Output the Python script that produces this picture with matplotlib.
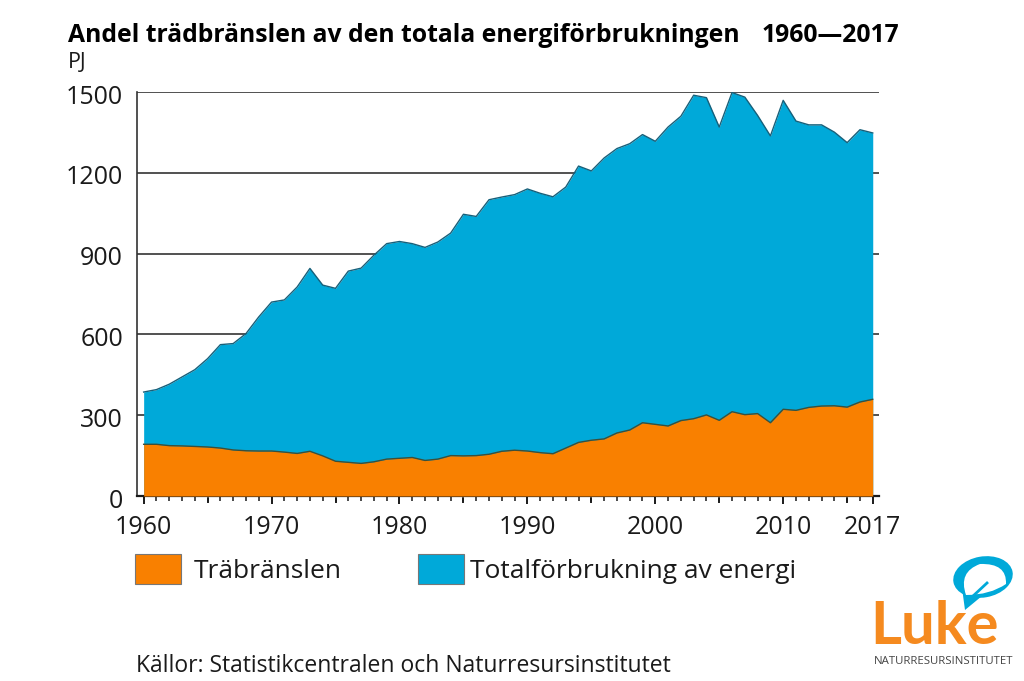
from __future__ import annotations

import matplotlib

matplotlib.use("Agg")
import matplotlib.pyplot as plt
from matplotlib.patches import Ellipse, PathPatch, Polygon
from matplotlib.path import Path
from matplotlib.transforms import ScaledTranslation

WIDTH, HEIGHT = 1024, 681
BLUE = "#00a9d9"
ORANGE = "#f98000"
DARK = "#1a1a1a"

plt.rcParams["font.family"] = ["Open Sans", "DejaVu Sans"]

years = list(range(1960, 2018))
total_energy = [
    386, 395, 415, 442, 469, 510, 562, 566, 603, 665,
    720, 728, 776, 845, 783, 771, 835, 846, 894, 937,
    945, 937, 923, 943, 976, 1046, 1038, 1100, 1110, 1119,
    1140, 1124, 1111, 1147, 1225, 1207, 1255, 1290, 1308, 1342,
    1317, 1370, 1410, 1488, 1479, 1370, 1498, 1481, 1413, 1337,
    1469, 1392, 1378, 1378, 1351, 1312, 1360, 1348,
]
wood_fuels = [
    192, 192, 187, 186, 184, 182, 178, 171, 168, 167,
    167, 163, 158, 166, 149, 129, 125, 121, 127, 137,
    140, 143, 132, 137, 150, 149, 150, 155, 166, 170,
    167, 161, 157, 178, 199, 207, 212, 234, 245, 272,
    266, 260, 280, 287, 301, 281, 313, 302, 306, 272,
    322, 318, 329, 334, 335, 330, 349, 359,
]
y_ticks = [0, 300, 600, 900, 1200, 1500]
x_labels = [1960, 1970, 1980, 1990, 2000, 2010, 2017]
x_stubs = [1965, 1975, 1985, 1995, 2005, 2015]


def px_axes(fig, left, top, right, bottom):
    return fig.add_axes([left / WIDTH, 1 - bottom / HEIGHT, (right - left) / WIDTH, (bottom - top) / HEIGHT])


fig = plt.figure(figsize=(WIDTH / 100, HEIGHT / 100), dpi=100)
ax = px_axes(fig, 137, 92, 879, 496)

total_fill = ax.fill_between(years, total_energy, color=BLUE, lw=0, zorder=2, label="Totalförbrukning av energi")
wood_fill = ax.fill_between(years, wood_fuels, color=ORANGE, lw=0, zorder=3, label="Träbränslen")
ax.plot(years, total_energy, color="#17607a", lw=1, zorder=4)
ax.plot(years, wood_fuels, color="#3d4f3a", lw=1, zorder=4)

ax.set_xlim(1959.48, 2017.49)
ax.set_ylim(0, 1500)
ax.set_yticks(y_ticks)
ax.set_yticklabels([str(v) for v in y_ticks], fontsize=18, color=DARK)
ax.set_xticks(x_labels)
ax.set_xticklabels([str(v) for v in x_labels], fontsize=18, color=DARK)
ax.set_xticks(years, minor=True)
ax.tick_params(axis="x", which="major", length=6, width=1.4, color=DARK, pad=7.5)
ax.tick_params(axis="x", which="minor", length=3.5, width=1.1, color=DARK)
ax.tick_params(axis="y", length=0, pad=10)
ax.grid(axis="y", color="#333333", lw=1.2, zorder=1)
ax.set_axisbelow(True)
# the y labels sit a little under their grid lines
for label in ax.get_yticklabels():
    label.set_transform(label.get_transform() + ScaledTranslation(0, -1.5 / 72, fig.dpi_scale_trans))
for side in ["top", "right"]:
    ax.spines[side].set_visible(False)
ax.spines["left"].set_color("#333333")
ax.spines["left"].set_linewidth(1.2)
ax.spines["bottom"].set_color(DARK)
ax.spines["bottom"].set_linewidth(1.6)
for yr in x_stubs:
    ax.plot([yr, yr], [-10, -24], color=DARK, lw=1.4, clip_on=False, zorder=5)

legend = ax.legend(
    handles=[wood_fill, total_fill],
    ncol=2,
    loc="upper left",
    bbox_to_anchor=(-2 / 742, -58 / 404),
    frameon=False,
    fontsize=19,
    handlelength=1.75,
    handleheight=1.37,
    handletextpad=0.47,
    columnspacing=2.9,
    borderpad=0,
    borderaxespad=0,
    labelcolor=DARK,
)
for handle in legend.legend_handles:
    handle.set_edgecolor("#777777")
    handle.set_linewidth(0.8)
legend.get_texts()[1].set_position((-7, 0))

fig.text(68 / WIDTH, 1 - 35 / HEIGHT, "Andel trädbränslen av den totala energiförbrukningen", fontsize=17.85,
         fontweight="bold", color="black", va="center")
fig.text(899 / WIDTH, 1 - 35 / HEIGHT, "1960—2017", fontsize=17.85, fontweight="bold", color="black", va="center", ha="right")
fig.text(68 / WIDTH, 1 - 62 / HEIGHT, "PJ", fontsize=15.5, color=DARK, va="center")
fig.text(136 / WIDTH, 1 - 666 / HEIGHT, "Källor: Statistikcentralen och Naturresursinstitutet", fontsize=16.5, color=DARK, va="center")

# logo, drawn on an overlay in pixel coordinates
logo = fig.add_axes([0, 0, 1, 1], facecolor="none")
logo.set_xlim(0, WIDTH)
logo.set_ylim(HEIGHT, 0)
logo.axis("off")
logo.add_patch(Ellipse((983, 577), 60, 41, angle=-10, color=BLUE, lw=0))
logo.add_patch(Polygon([(962, 588), (982, 596), (965, 610)], closed=True, color=BLUE, lw=0))
leaf = Path(
    [(966, 595), (958, 572), (980, 564), (1007, 563), (1006, 584), (990, 595), (966, 595)],
    [Path.MOVETO, Path.CURVE3, Path.CURVE3, Path.CURVE3, Path.CURVE3, Path.CURVE3, Path.CURVE3],
)
logo.add_patch(PathPatch(leaf, facecolor="white", lw=0))
logo.plot([972, 987], [597, 583], color=BLUE, lw=2)
logo.text(870, 644, "Luke", fontsize=43, fontweight="bold", family="Lato", color="#f58a1f", va="baseline", ha="left")
logo.text(874, 661, "NATURRESURSINSTITUTET", fontsize=8.2, color="#444444", va="center", ha="left")

fig.savefig("out.png", dpi=100)
